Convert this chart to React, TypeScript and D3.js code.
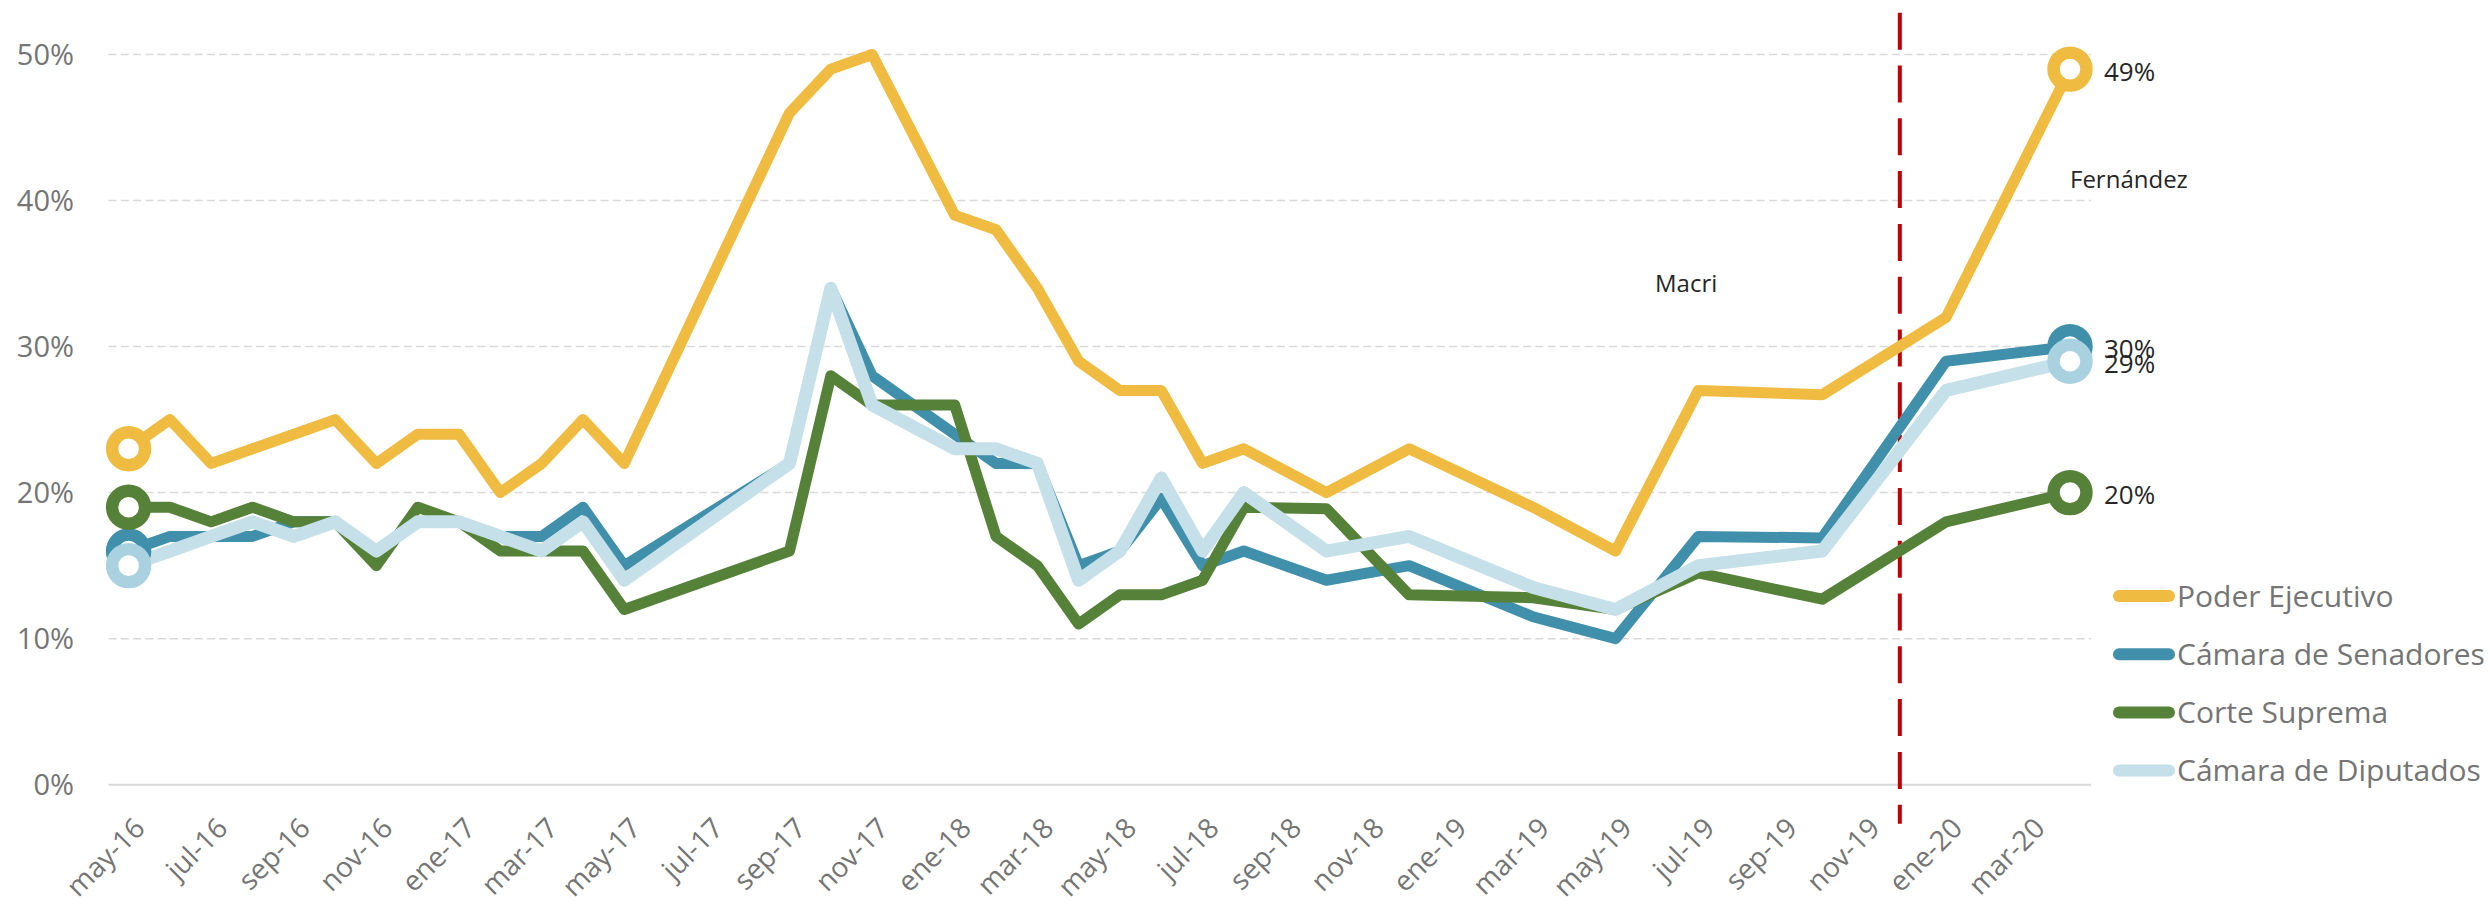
import React, { useEffect, useRef } from "react";
import * as d3 from "d3";

// survey dates (year-month), shared by every series
const surveyDates = [
  "2016-05", "2016-06", "2016-07", "2016-08", "2016-09", "2016-10", "2016-11", "2016-12",
  "2017-01", "2017-02", "2017-03", "2017-04", "2017-05", "2017-09", "2017-10", "2017-11",
  "2018-01", "2018-02", "2018-03", "2018-04", "2018-05", "2018-06", "2018-07", "2018-08",
  "2018-10", "2018-12", "2019-03", "2019-05", "2019-07", "2019-10", "2020-01", "2020-04",
];

const poderEjecutivo = [23, 25, 22, 23, 24, 25, 22, 24, 24, 20, 22, 25, 22, 46, 49, 50, 39, 38, 34, 29, 27, 27, 22, 23, 20, 23, 19, 16, 27, 26.7, 32, 49];
const camaraSenadores = [16, 17, 17, 17, 18, 18, 16, 18, 18, 17, 17, 19, 15, 22, 34, 28, 24, 22, 22, 15, 16, 19.6, 15, 16, 14, 15, 11.5, 10, 17, 16.9, 29, 30];
const corteSuprema = [19, 19, 18, 19, 18, 18, 15, 19, 18, 16, 16, 16, 12, 16, 28, 26, 26, 17, 15, 11, 13, 13, 14, 19, 18.9, 13, 12.8, 12, 14.5, 12.7, 18, 20];
const camaraDiputados = [15, 16, 17, 18, 17, 18, 16, 18, 18, 17, 16, 18, 14, 22, 34, 26, 23, 23, 22, 14, 16, 21, 16, 20, 16, 17, 13.5, 12, 15, 16, 27, 29];

const seriesNames = ["Poder Ejecutivo", "Cámara de Senadores", "Corte Suprema", "Cámara de Diputados"];
const seriesValues = [poderEjecutivo, camaraSenadores, corteSuprema, camaraDiputados];
const seriesColors = ["#efbb41", "#408fab", "#568139", "#c6e0e9"];
const markerColors = ["#efbb41", "#408fab", "#568139", "#a9d1e0"];

const tickLabels = [
  "may-16", "jul-16", "sep-16", "nov-16",
  "ene-17", "mar-17", "may-17", "jul-17", "sep-17", "nov-17",
  "ene-18", "mar-18", "may-18", "jul-18", "sep-18", "nov-18",
  "ene-19", "mar-19", "may-19", "jul-19", "sep-19", "nov-19",
  "ene-20", "mar-20",
];
const yTicks = [0, 10, 20, 30, 40, 50];

// change of government (early Dec 2019)
const cambioGobierno = "2019-12";

const monthIndex = (s: string) => {
  const [y, m] = s.split("-").map(Number);
  return (y - 2016) * 12 + (m - 5);
};

const FONT = "'Open Sans', 'Noto Sans', sans-serif";

export default function App() {
  const ref = useRef<SVGSVGElement>(null);

  useEffect(() => {
    const svg = d3.select(ref.current);
    svg.selectAll("*").remove();

    const x = d3.scaleLinear().domain([0, 47]).range([128.6, 2070]);
    const y = d3.scaleLinear().domain([0, 50]).range([784.7, 54.5]);
    const gridLeft = 108.5;
    const gridRight = 2091;

    // gridlines
    svg.append("g")
      .selectAll("line")
      .data(yTicks)
      .join("line")
      .attr("x1", gridLeft)
      .attr("x2", gridRight)
      .attr("y1", d => y(d))
      .attr("y2", d => y(d))
      .attr("stroke", "#d9d9d9")
      .attr("stroke-width", d => (d === 0 ? 2 : 1.5))
      .attr("stroke-dasharray", d => (d === 0 ? null : "8,4.3"));

    // y tick labels
    svg.append("g")
      .selectAll("text")
      .data(yTicks)
      .join("text")
      .attr("x", 74)
      .attr("y", d => y(d) + 10.5)
      .attr("text-anchor", "end")
      .attr("font-family", FONT)
      .attr("font-size", 29)
      .attr("fill", "#757575")
      .text(d => `${d}%`);

    // x tick labels, every other month
    svg.append("g")
      .selectAll("text")
      .data(tickLabels)
      .join("text")
      .attr("transform", (d, i) => `translate(${x(i * 2) + 18},830) rotate(-45)`)
      .attr("text-anchor", "end")
      .attr("font-family", FONT)
      .attr("font-size", 28)
      .attr("fill", "#757575")
      .text(d => d);

    // red dashed line
    const xc = x(monthIndex(cambioGobierno) - 0.12);
    svg.append("line")
      .attr("x1", xc)
      .attr("x2", xc)
      .attr("y1", 12.7)
      .attr("y2", 823.7)
      .attr("stroke", "#c00000")
      .attr("stroke-width", 4)
      .attr("stroke-dasharray", "37,15.8");

    const xs = surveyDates.map(monthIndex);
    const line = d3.line<number>()
      .x((d, i) => x(xs[i]))
      .y(d => y(d));

    seriesValues.forEach((vals, s) => {
      svg.append("path")
        .attr("d", line(vals))
        .attr("fill", "none")
        .attr("stroke", seriesColors[s])
        .attr("stroke-width", s === 3 ? 13 : 11)
        .attr("stroke-linejoin", "round")
        .attr("stroke-linecap", "round");
    });

    // markers at first and last points
    seriesValues.forEach((vals, s) => {
      const last = vals.length - 1;
      svg.append("g")
        .selectAll("circle")
        .data([0, last])
        .join("circle")
        .attr("cx", i => x(xs[i]))
        .attr("cy", i => y(vals[i]))
        .attr("r", 16.5)
        .attr("fill", "#ffffff")
        .attr("stroke", markerColors[s])
        .attr("stroke-width", 12.4);
    });

    // end labels
    seriesValues.forEach(vals => {
      const last = vals.length - 1;
      svg.append("text")
        .attr("x", x(xs[last]) + 34)
        .attr("y", y(vals[last]) + 11.5)
        .attr("font-family", FONT)
        .attr("font-size", 26)
        .attr("fill", "#262626")
        .text(`${Math.round(vals[last])}%`);
    });

    // annotations
    svg.append("text")
      .attr("x", 1655)
      .attr("y", 292)
      .attr("font-family", FONT)
      .attr("font-size", 24)
      .attr("fill", "#262626")
      .text("Macri");
    svg.append("text")
      .attr("x", 2070)
      .attr("y", 188)
      .attr("font-family", FONT)
      .attr("font-size", 24)
      .attr("fill", "#262626")
      .text("Fernández");

    // legend
    const legend = svg.append("g")
      .selectAll("g")
      .data(seriesNames)
      .join("g")
      .attr("transform", (d, i) => `translate(2113,${596 + i * 58.2})`);
    legend.append("line")
      .attr("x1", 6)
      .attr("x2", 56)
      .attr("stroke", (d, i) => seriesColors[i])
      .attr("stroke-width", 12)
      .attr("stroke-linecap", "round");
    legend.append("text")
      .attr("x", 64)
      .attr("y", 10.8)
      .attr("font-family", FONT)
      .attr("font-size", 30)
      .attr("fill", "#757575")
      .text(d => d);
  }, []);

  return (
    <div style={{ position: "absolute", left: 0, top: 0 }}>
      <svg ref={ref} width={2490} height={907} style={{ display: "block", background: "#fff" }} />
    </div>
  );
}
